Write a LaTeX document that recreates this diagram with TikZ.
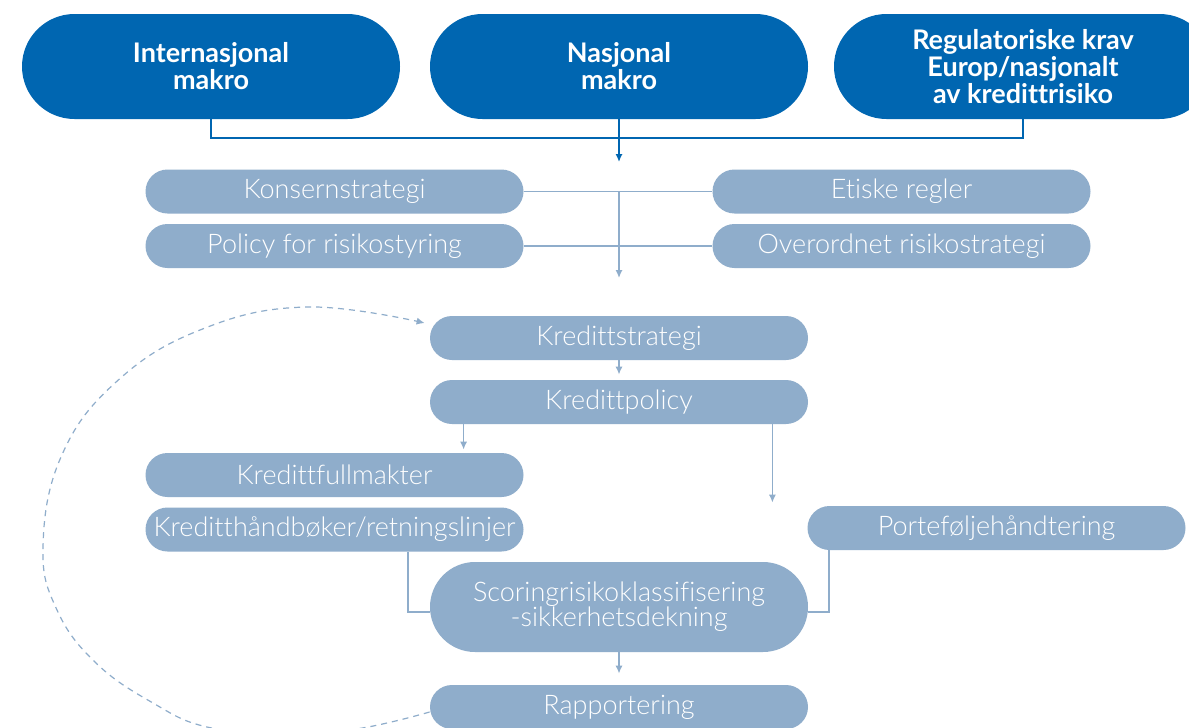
\documentclass[tikz,border=0pt]{standalone}
\usepackage{fontspec}
\setmainfont{Lato}[UprightFont=* Light, BoldFont=* Bold, Ligatures=NoCommon]
\usetikzlibrary{arrows.meta,calc}
\definecolor{topblue}{HTML}{0066B1}
\definecolor{paleblue}{HTML}{8FADCB}

\begin{document}
\begin{tikzpicture}[x=0.5pt,y=-0.5pt,
  topbox/.style={fill=topblue, text=white, rounded corners=26.25pt,
    minimum width=189pt, minimum height=52.5pt, inner sep=0pt, align=center,
    font=\bfseries\fontsize{13.5}{13.5}\selectfont},
  stepbox/.style={fill=paleblue, text=white, rounded corners=11pt,
    minimum width=189pt, minimum height=22pt, inner sep=0pt, align=center,
    font=\fontsize{13.5}{12.5}\selectfont},
  darkline/.style={draw=topblue, line width=1pt},
  paleline/.style={draw=paleblue, line width=0.8pt},
  tip/.style={-{Latex[length=4pt,width=3.6pt]}}
]
\fill[white] (0,0) rectangle (1189,728);
\useasboundingbox (0,0) rectangle (1189,728);

% external drivers
\node[topbox] (intl) at (211,66.5) {Internasjonal\\makro};
\node[topbox] (nat)  at (619,66.5) {Nasjonal\\makro};
\node[topbox] (reg)  at (1023,66.5) {Regulatoriske krav\\Europ/nasjonalt\\av kredittrisiko};

% group-level governing documents
\node[stepbox] (kons) at (334.5,191.5) {Konsernstrategi};
\node[stepbox] (pol)  at (334.5,246)   {Policy for risikostyring};
\node[stepbox] (etis) at (901.5,191.5) {Etiske regler};
\node[stepbox] (over) at (901.5,246)   {Overordnet risikostrategi};

% credit process
\node[stepbox] (kstr) at (619,338)   {Kredittstrategi};
\node[stepbox] (kpol) at (619,402)   {Kredittpolicy};
\node[stepbox] (kful) at (334.5,475) {Kredittfullmakter};
\node[stepbox] (khb)  at (334.5,529.5) {Kreditthåndbøker/retningslinjer};
\node[stepbox] (port) at (996.5,528) {Porteføljehåndtering};
\node[stepbox, minimum height=45pt, rounded corners=22.5pt] (scor) at (619,607)
  {Scoringrisikoklassifisering\\-sikkerhetsdekning};
\node[stepbox] (rapp) at (619,707)   {Rapportering};

% connectors from the drivers
\coordinate (hub) at (619,138);
\coordinate (topend) at (619,162);
\draw[darkline] (intl.south) |- (hub) -| (reg.south);
\draw[darkline, tip] (nat.south) -- (topend);

% connectors of the governing documents
\coordinate (midend) at (619,278);
\draw[paleline] (kons.east) -- (etis.west);
\draw[paleline] (pol.east) -- (over.west);
\draw[paleline, tip] (kons.east -| nat.south) -- (midend);

% credit process connectors
\draw[paleline, tip, shorten >=2.5pt] (kstr.south) -- (kpol.north);
\draw[paleline, tip, shorten >=1.5pt] ([xshift=17pt]kpol.south west) -- ([xshift=17pt]kpol.south west |- kful.north);
\draw[paleline, tip, shorten >=1.5pt] ([xshift=-18pt]kpol.south east) -- ([xshift=-18pt]kpol.south east |- port.north);
\draw[paleline] ([xshift=-58pt]khb.south east) |- ([yshift=-2.5pt]scor.west);
\draw[paleline] ([xshift=11pt]port.south west) |- ([yshift=-2.5pt]scor.east);
\draw[paleline, tip, shorten >=5.5pt] (scor.south) -- (rapp.north);

% feedback loop from reporting back to the credit strategy
\draw[draw=paleblue, line width=0.6pt, dash pattern=on 3pt off 2.5pt, tip]
  plot[smooth, tension=0.7] coordinates {
    ([yshift=-2.5pt]rapp.west) (356,729) (280,733) (207,727) (153,703)
    (96,663) (57,610) (43,547) (61,457) (115,383) (200,330) (306,307)
    ([xshift=-2.5pt,yshift=7.5pt]kstr.west)};
\end{tikzpicture}
\end{document}
